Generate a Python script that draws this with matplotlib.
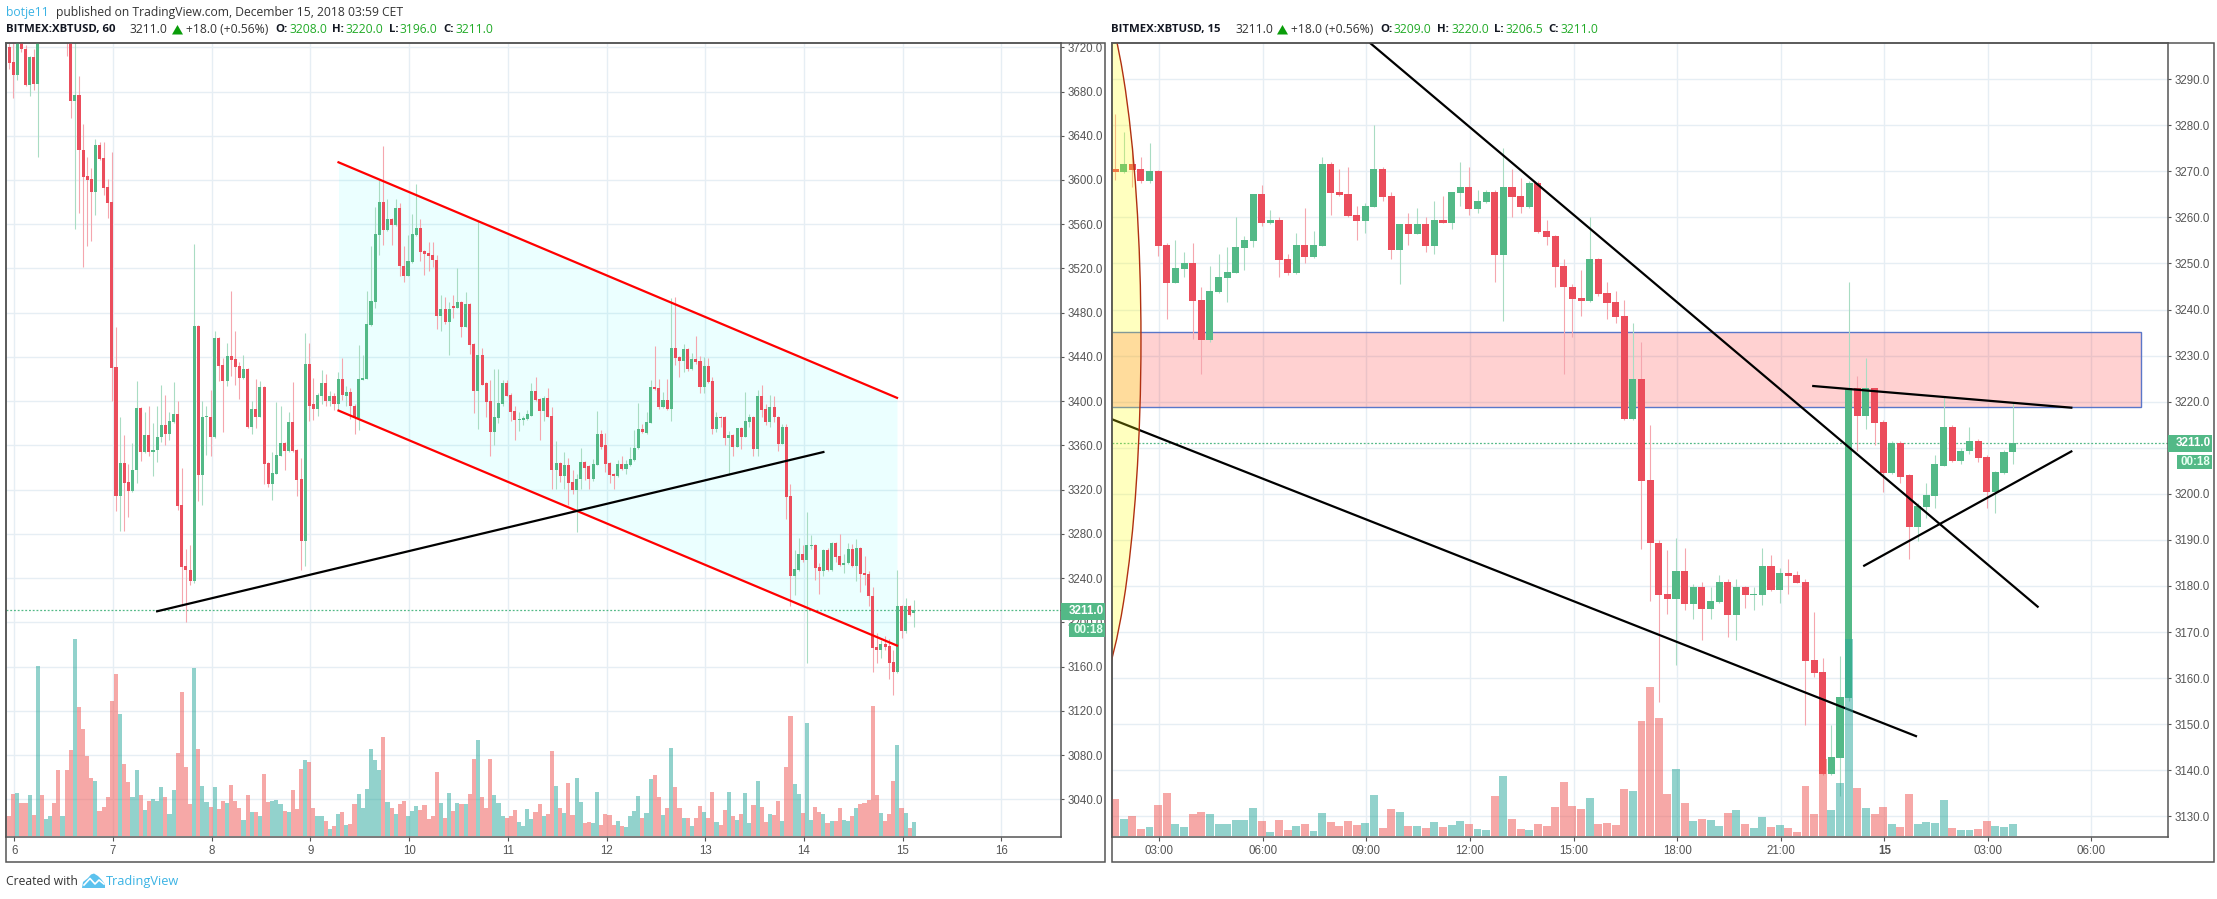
import numpy as np
import matplotlib
matplotlib.use("Agg")
import matplotlib.pyplot as plt
from matplotlib.patches import Ellipse, Polygon, Rectangle

W, H = 2217, 899
UP, DOWN = "#53B987", "#EB4D5C"
UP_WICK, DOWN_WICK = "#A9DCC3", "#F5A6AE"
UP_VOL, DOWN_VOL = "#26A69A", "#EF5350"
GRID = "#E6EEF4"
FRAME = "#555555"
BLUE = "#3BB3E4"
VALUE_GREEN = "#22AB28"

# hourly candles, first one is the bar before Dec 6 00:00
o_1h = [3720,3707,3695,3730,3718,3686,3711,3687,3775,3750,
        3765,3772,3760,3752,3758,3730,3671,3677,3627,3604,
        3601,3589,3632,3620,3594,3580,3431,3314,3344,3327,
        3319,3338,3394,3354,3369,3354,3356,3368,3378,3370,
        3381,3388,3306,3251,3247,3237,3468,3333,3386,3386,
        3368,3457,3433,3418,3441,3438,3432,3421,3429,3377,
        3393,3386,3413,3344,3325,3334,3350,3362,3355,3381,
        3356,3330,3274,3434,3397,3393,3405,3416,3400,3405,
        3397,3420,3405,3408,3396,3385,3419,3420,3469,3490,
        3550,3580,3555,3565,3559,3575,3522,3513,3526,3550,
        3557,3536,3534,3532,3528,3477,3483,3472,3486,3484,
        3490,3467,3488,3452,3409,3442,3416,3400,3372,3385,
        3397,3416,3406,3391,3383,3383,3384,3387,3409,3402,
        3391,3403,3387,3338,3344,3332,3342,3327,3320,3330,
        3345,3341,3330,3342,3370,3360,3344,3334,3332,3343,
        3339,3342,3347,3358,3375,3371,3380,3413,3412,3395,
        3401,3393,3448,3440,3436,3447,3429,3438,3436,3413,
        3432,3418,3375,3386,3386,3367,3369,3359,3376,3368,
        3381,3386,3357,3405,3393,3381,3395,3386,3361,3377,
        3314,3242,3247,3262,3256,3269,3270,3250,3246,3265,
        3247,3272,3260,3252,3254,3266,3251,3267,3245,3244,
        3224,3178,3175,3180,3179,3164,3155,3215,3192,3215,3208]
h_1h = [3724,3730,3735,3735,3722,3712,3718,3740,3780,3770,
        3778,3778,3766,3762,3762,3745,3730,3694,3651,3621,
        3611,3637,3634,3634,3601,3625,3467,3386,3369,3343,
        3362,3418,3395,3390,3396,3380,3396,3415,3406,3390,
        3417,3400,3340,3266,3270,3542,3469,3400,3396,3410,
        3463,3458,3439,3453,3500,3463,3435,3442,3430,3400,
        3420,3418,3414,3345,3354,3399,3396,3363,3390,3417,
        3357,3349,3462,3453,3421,3407,3428,3425,3409,3407,
        3426,3439,3414,3412,3397,3451,3442,3500,3540,3576,
        3600,3631,3583,3566,3583,3579,3540,3550,3569,3596,
        3565,3537,3544,3544,3532,3496,3494,3490,3496,3520,
        3491,3499,3489,3453,3564,3448,3417,3419,3429,3429,
        3419,3419,3407,3396,3390,3387,3392,3416,3422,3403,
        3405,3412,3395,3364,3345,3354,3349,3338,3334,3358,
        3346,3342,3348,3391,3374,3371,3345,3335,3347,3350,
        3347,3359,3374,3398,3379,3390,3419,3450,3420,3408,
        3420,3493,3494,3441,3452,3448,3444,3459,3441,3440,
        3439,3422,3390,3387,3387,3373,3370,3376,3377,3408,
        3388,3387,3410,3415,3397,3406,3405,3387,3379,3379,
        3325,3265,3276,3270,3300,3279,3271,3254,3266,3267,
        3273,3273,3280,3262,3272,3271,3275,3268,3260,3246,
        3232,3190,3184,3188,3185,3175,3247,3216,3222,3216,3220]
l_1h = [3700,3674,3690,3716,3685,3676,3681,3621,3745,3745,
        3760,3752,3745,3740,3712,3656,3556,3570,3521,3540,
        3545,3568,3618,3586,3566,3400,3301,3283,3283,3295,
        3318,3326,3346,3353,3350,3332,3345,3363,3360,3365,
        3380,3302,3215,3200,3234,3236,3310,3306,3351,3350,
        3367,3418,3372,3414,3423,3415,3402,3420,3376,3370,
        3376,3386,3325,3322,3311,3334,3350,3338,3354,3354,
        3314,3247,3251,3382,3383,3387,3397,3396,3396,3392,
        3392,3401,3396,3384,3370,3374,3419,3420,3468,3484,
        3532,3541,3554,3541,3558,3513,3508,3513,3525,3549,
        3527,3514,3518,3521,3465,3463,3470,3442,3475,3484,
        3458,3467,3443,3389,3375,3415,3386,3350,3360,3380,
        3396,3405,3382,3365,3373,3378,3383,3387,3400,3365,
        3382,3386,3321,3321,3327,3321,3306,3316,3282,3321,
        3329,3321,3328,3342,3357,3336,3326,3321,3331,3338,
        3334,3341,3346,3357,3371,3370,3380,3410,3393,3394,
        3392,3382,3433,3422,3426,3427,3428,3434,3407,3407,
        3416,3370,3372,3377,3360,3333,3350,3359,3357,3368,
        3377,3350,3350,3386,3378,3377,3381,3355,3361,3293,
        3215,3225,3246,3255,3163,3266,3238,3226,3242,3246,
        3246,3255,3251,3245,3253,3250,3237,3227,3234,3215,
        3155,3163,3168,3175,3149,3134,3154,3186,3190,3206,3196]
c_1h = [3706,3695,3730,3718,3686,3711,3687,3735,3750,3765,
        3772,3760,3752,3758,3730,3671,3677,3627,3603,3600,
        3589,3632,3619,3593,3579,3430,3314,3344,3326,3319,
        3338,3394,3354,3369,3354,3356,3368,3378,3370,3382,
        3388,3305,3250,3247,3237,3468,3333,3386,3387,3368,
        3457,3432,3418,3441,3437,3431,3421,3429,3377,3393,
        3386,3413,3343,3325,3335,3351,3362,3355,3381,3355,
        3329,3274,3434,3396,3393,3406,3416,3400,3405,3397,
        3420,3406,3408,3396,3385,3420,3421,3470,3491,3551,
        3580,3555,3565,3559,3575,3522,3513,3527,3551,3557,
        3535,3533,3531,3528,3477,3483,3472,3483,3484,3490,
        3467,3488,3451,3409,3442,3415,3399,3372,3386,3398,
        3416,3405,3390,3383,3384,3385,3388,3409,3401,3391,
        3403,3386,3338,3344,3332,3342,3326,3320,3330,3345,
        3340,3330,3343,3370,3359,3343,3333,3332,3343,3339,
        3343,3348,3358,3375,3372,3381,3413,3411,3395,3401,
        3393,3448,3439,3436,3447,3429,3438,3435,3413,3432,
        3417,3375,3386,3385,3367,3369,3359,3376,3368,3382,
        3386,3357,3405,3392,3381,3395,3386,3361,3377,3313,
        3242,3248,3262,3256,3270,3270,3249,3246,3265,3247,
        3272,3259,3252,3254,3266,3251,3267,3244,3243,3224,
        3177,3175,3180,3178,3163,3155,3215,3192,3215,3207,3211]
v_1h = [60,126,129,99,99,123,63,510,123,51,
        60,99,198,60,198,258,591,387,321,240,
        174,165,75,87,117,405,486,366,216,162,
        117,198,123,78,105,111,105,147,117,66,
        138,249,432,207,96,504,261,150,102,87,
        147,81,105,99,153,105,84,48,123,72,
        72,60,186,102,105,108,96,75,72,138,
        81,201,228,222,84,60,60,45,21,30,
        66,72,33,36,96,126,84,141,261,228,
        198,297,102,84,66,96,105,60,75,90,
        78,93,51,60,192,99,54,129,75,99,
        96,96,126,231,288,117,84,231,123,99,
        60,54,60,78,42,30,81,51,72,96,
        60,66,255,150,84,69,159,63,174,102,
        39,42,39,132,33,66,63,33,45,30,
        27,60,75,120,54,69,171,183,117,63,
        84,264,147,84,54,54,30,54,90,72,
        54,132,42,33,78,132,60,48,66,129,
        39,93,165,87,42,66,63,105,45,207,
        360,156,126,69,339,48,87,72,66,39,
        45,45,84,48,45,60,84,96,99,108,
        390,123,69,45,66,165,273,84,69,24,42]

# 15 minute candles
o_15 = [3270.5,3269.9,3271.6,3270.5,3267.9,3270.1,3254,3245.7,3248.8,3250.1,
        3242,3233.3,3243.8,3246.8,3247.9,3253.3,3254.9,3265,3258.8,3259.4,
        3251,3247.9,3254,3251.4,3253.8,3271.6,3265.5,3265,3260.5,3259.2,
        3262.3,3270.5,3264.6,3252.9,3258.6,3256.4,3258.6,3253.8,3259.4,3258.8,
        3265.3,3266.6,3261.8,3263.3,3265.5,3251.8,3266.6,3264.6,3262.3,3267.5,
        3257,3256,3249.4,3245,3242.5,3241.8,3251,3243.5,3241.6,3238.6,
        3216.2,3225,3202.9,3189.4,3178.3,3177.2,3183.3,3176.1,3179.8,3175,
        3176.6,3180.9,3173.7,3179.8,3178.1,3178.1,3184.4,3179.2,3182.9,3182.4,
        3180.9,3164,3161.4,3139.2,3142.7,3155.7,3222.9,3216.8,3222.9,3215.5,
        3204.6,3211,3204,3192.7,3197.2,3199.6,3206.1,3214.4,3207.2,3209.2,
        3211.4,3207.9,3200.3,3204.6,3209]
h_15 = [3282.5,3278.6,3275.5,3273.1,3276.2,3270.3,3254.4,3255,3252.5,3254.4,
        3245,3249.4,3252,3253.6,3260,3256,3265.1,3267,3261.6,3260,
        3252,3256.6,3262,3257,3273.1,3272,3270.5,3271,3262.5,3263.1,
        3280,3271,3265.5,3258.6,3261,3262,3260,3263.5,3264.6,3265.6,
        3272,3271,3266,3266,3266,3275,3270.5,3268.6,3268,3268,
        3259.4,3256.1,3251,3245.5,3248.6,3260,3251.1,3246,3244,3242,
        3237,3233,3214.9,3190,3187.9,3190.5,3188.3,3180.5,3180.9,3179.8,
        3182.4,3181.4,3181.4,3180,3179.8,3188.3,3186.8,3184,3185.9,3183.3,
        3181.4,3174.4,3164.4,3149.8,3164.8,3246,3225.5,3229.4,3223,3216,
        3211.5,3211.5,3204.2,3198,3202.4,3208.5,3221.2,3214.9,3210,3214.4,
        3212,3208.5,3205,3209.5,3220]
l_15 = [3268.1,3269.7,3266.7,3267.5,3267.5,3251.6,3237.9,3245.7,3247,3233.6,
        3226,3232.9,3243.5,3241.6,3247.9,3248.6,3253.6,3258.1,3258.6,3247,
        3247.5,3247.8,3250.1,3251.3,3253.7,3260.5,3264.7,3260,3255,3256.6,
        3262.2,3263.5,3251,3245.5,3254,3256.3,3252.5,3252,3258.7,3257.5,
        3262.5,3260.5,3261,3263.2,3246,3237.5,3260,3261,3262,3256.7,
        3254,3245,3226,3234,3238.5,3241.7,3243,3237.9,3237,3216,
        3216,3188,3176.8,3154.9,3174,3162.9,3174.8,3172.9,3168.3,3172.9,
        3176.4,3169,3168.3,3175.3,3174.8,3175.9,3179,3176.4,3178.3,3180.6,
        3149.8,3160.3,3139,3139,3134.4,3155,3209.4,3214,3210.5,3200.5,
        3204.4,3202.4,3185.9,3189.8,3194.8,3197,3206,3207,3206.4,3208.7,
        3207,3197,3195.9,3204.4,3206.5]
c_15 = [3269.9,3271.6,3270.3,3267.9,3270.1,3253.8,3245.7,3249,3250.1,3241.8,
        3233.3,3244,3247,3248.1,3253.6,3255,3265,3258.8,3259.4,3250.7,
        3247.9,3254,3251.4,3254,3271.6,3265.3,3264.9,3260.3,3259.2,3262.5,
        3270.5,3264.4,3252.9,3258.6,3256.4,3258.6,3253.8,3259.4,3258.8,3265.5,
        3266.6,3261.8,3263.5,3265.5,3251.8,3266.6,3264.4,3262.3,3267.5,3256.8,
        3255.7,3249.2,3244.9,3242.2,3241.8,3251,3243.3,3241.4,3238.3,3216.2,
        3225,3202.7,3189.3,3178.1,3177.2,3183.3,3176.1,3179.8,3175,3176.8,
        3180.9,3173.7,3179.8,3178.1,3178.3,3184.4,3179.2,3182.9,3182.2,3180.7,
        3163.7,3161.1,3139.2,3142.9,3155.9,3222.9,3216.8,3222.9,3215.3,3204.6,
        3211,3203.7,3192.7,3197.4,3199.8,3206.4,3214.4,3207.2,3209.4,3211.4,
        3207.7,3200.3,3204.8,3209,3211]
v_15 = [111,51,60,21,27,93,129,36,27,66,
        72,66,36,36,48,48,84,45,12,48,
        18,30,36,15,69,42,30,45,33,39,
        123,24,81,72,30,30,24,42,27,33,
        45,36,21,18,120,180,51,21,18,36,
        30,87,162,90,81,114,36,39,33,141,
        135,345,447,354,126,201,99,45,51,48,
        30,69,78,36,24,57,27,33,24,12,
        150,66,231,78,159,591,144,84,66,87,
        36,27,126,36,42,39,108,24,18,18,21,45,30,27,36]

last_price = 3211.0

# axis labels
prices_1h = list(range(3040, 3721, 40))
days_1h = ["6", "7", "8", "9", "10", "11", "12", "13", "14", "15", "16"]
prices_15 = list(range(3130, 3291, 10))
times_15 = ["03:00", "06:00", "09:00", "12:00", "15:00", "18:00", "21:00", "15", "03:00", "06:00"]

# drawings on the 60 min chart, in bars and price
channel_x = [79.1, 214.9]
channel_top = [3616, 3403]
channel_bottom = [3391.5, 3179]
support_x = [35, 197]
support_y = [3210, 3354]

# drawings on the 15 min chart
zone_x = [-5, 118.9]
zone_y = [3218.8, 3235.2]
ellipse_c = (-3.94, 3233.4)
ellipse_size = (13.9, 161.5)
trend_lines = [([29.6, 106.9], [3297.8, 3175.5]),
               ([-0.37, 92.8], [3216.2, 3147.4]),
               ([80.9, 110.8], [3223.4, 3218.7]),
               ([86.8, 110.8], [3184.4, 3209.2])]


def px_axes(fig, left, top, right, bottom):
    return fig.add_axes([left / W, 1 - bottom / H, (right - left) / W, (bottom - top) / H])


def candles(ax, vol_ax, x, o, h, l, c, v, body_w, vol_w):
    x = np.array(x, dtype=float)
    o, h, l, c = np.array(o), np.array(h), np.array(l), np.array(c)
    up = c >= o
    ax.vlines(x[up], l[up], h[up], color=UP_WICK, lw=0.8, zorder=2.5)
    ax.vlines(x[~up], l[~up], h[~up], color=DOWN_WICK, lw=0.8, zorder=2.5)
    ax.bar(x[up], (c - o)[up], body_w, bottom=o[up], color=UP, lw=0, zorder=3)
    ax.bar(x[~up], (o - c)[~up], body_w, bottom=c[~up], color=DOWN, lw=0, zorder=3)
    v = np.array(v)
    vol_ax.bar(x[up], v[up], vol_w, color=UP_VOL, alpha=0.5, lw=0)
    vol_ax.bar(x[~up], v[~up], vol_w, color=DOWN_VOL, alpha=0.5, lw=0)
    vol_ax.set_ylim(-3, 2378)
    vol_ax.set_yticks([])
    for s in vol_ax.spines.values():
        s.set_visible(False)


def style(ax, xticks, xlabels, yticks):
    ax.set_xticks(xticks)
    ax.set_xticklabels(xlabels)
    ax.set_yticks(yticks)
    ax.set_yticklabels(["%.1f" % p for p in yticks])
    ax.yaxis.tick_right()
    ax.grid(True, color=GRID, lw=1.0)
    ax.set_axisbelow(True)
    ax.tick_params(axis="y", length=2.5, width=0.8, color=FRAME, labelcolor=FRAME, labelsize=8.3, pad=2.5)
    ax.tick_params(axis="x", length=3, width=0.8, color=FRAME, labelcolor=FRAME, labelsize=8.3, pad=3)
    for lab in ax.get_xticklabels() + ax.get_yticklabels():
        lab.set_fontfamily("Liberation Sans")
    for s in ax.spines.values():
        s.set_color(FRAME)
        s.set_linewidth(1.1)
    ax.axhline(last_price, color=UP, lw=0.9, ls=(0, (1.5, 1.5)), zorder=2)


fig = plt.figure(figsize=(W / 100, H / 100), dpi=100, facecolor="white")

# left chart, 60 min
ax1 = px_axes(fig, 6.4, 43.3, 1060.7, 837)
x1 = np.arange(-1, len(o_1h) - 1)
vol1 = ax1.twinx()
style(ax1, [0.27 + 24 * i for i in range(len(days_1h))], days_1h, prices_1h)
ax1.fill_between(channel_x, channel_bottom, channel_top, color=(0, 1, 1), alpha=0.08, lw=0, zorder=1.5)
candles(ax1, vol1, x1, o_1h, h_1h, l_1h, c_1h, v_1h, 0.74, 1.0)
ax1.plot(channel_x, channel_top, color="#FF0000", lw=1.6, zorder=4)
ax1.plot(channel_x, channel_bottom, color="#FF0000", lw=1.6, zorder=4)
ax1.plot(support_x, support_y, color="black", lw=1.6, zorder=4)
ax1.set_xlim(-1.65, 254.7)
ax1.set_ylim(3005.9, 3723.6)

# right chart, 15 min
ax2 = px_axes(fig, 1111.8, 43.3, 2168, 837)
x2 = np.arange(len(o_15))
vol2 = ax2.twinx()
style(ax2, [5.13 + 12 * i for i in range(len(times_15))], times_15, prices_15)
ax2.get_xticklabels()[7].set_fontweight("bold")
ax2.add_patch(Rectangle((zone_x[0], zone_y[0]), zone_x[1] - zone_x[0], zone_y[1] - zone_y[0],
                        facecolor=(1, 0, 0, 0.18), edgecolor="#5A77C9", lw=1.0, zorder=1.5))
candles(ax2, vol2, x2, o_15, h_15, l_15, c_15, v_15, 0.82, 0.92)
for lx, ly in trend_lines:
    ax2.plot(lx, ly, color="black", lw=1.6, zorder=4)
ax2.add_patch(Ellipse(ellipse_c, ellipse_size[0], ellipse_size[1], facecolor=(1, 1, 0, 0.25),
                      edgecolor="#B03010", lw=1.0, zorder=4.5))
ax2.set_xlim(-0.37, 122)
ax2.set_ylim(3125.5, 3297.8)

# overlay in pixels for frames, header, price tags, footer
top = fig.add_axes([0, 0, 1, 1], zorder=10)
top.set_xlim(0, W)
top.set_ylim(H, 0)
top.axis("off")
top.patch.set_alpha(0)


def put(x, y, s, color="#333333", weight="normal", size=8.7, family="Open Sans", ha="left"):
    top.text(x, y, s, color=color, fontweight=weight, fontsize=size, family=family, ha=ha, va="center")


for fx0, fx1 in [(6.4, 1105.4), (1111.8, 2213.6)]:
    top.add_patch(Rectangle((fx0, 43.3), fx1 - fx0, 819, fill=False, edgecolor=FRAME, lw=1.1))

put(6.4, 12.6, "botje11", color=BLUE)
put(55.5, 12.6, "published on TradingView.com, December 15, 2018 03:59 CET")


def header(dx, name, vals):
    put(dx + 6.4, 29.3, name, color="#131722", weight="bold", size=8.2)
    put(dx + 130, 29.3, "3211.0")
    top.add_patch(Polygon([(dx + 172, 34.5), (dx + 177.5, 25), (dx + 183, 34.5)], color="#0A9D0A", lw=0))
    put(dx + 186, 29.3, "+18.0 (+0.56%)")
    for lab, val, lx, vx in zip("OHLC", vals, [275.4, 332, 389, 443], [289, 346, 400, 455.4]):
        put(dx + lx, 29.3, lab + ":", color="#131722", weight="bold", size=8.2)
        put(dx + vx, 29.3, val, color=VALUE_GREEN)


header(0, "BITMEX:XBTUSD, 60", ["3208.0", "3220.0", "3196.0", "3211.0"])
header(1105, "BITMEX:XBTUSD, 15", ["3209.0", "3220.0", "3206.5", "3211.0"])

# last price tags
for bx0, bx1, by0, cx0 in [(1060.7, 1105, 603, 1069), (2168, 2211.8, 435, 2176.8)]:
    top.add_patch(Rectangle((bx0, by0), bx1 - bx0, 16.5, color=UP, lw=0))
    top.add_patch(Rectangle((cx0, by0 + 20), bx1 - cx0, 14, color=UP, lw=0))
    put(bx1 - 1.5, by0 + 8.3, "3211.0", color="white", weight="bold", size=8.4, family="Liberation Sans", ha="right")
    put(bx1 - 1.5, by0 + 27, "00:18", color="#E6FFF0", weight="bold", size=8.4, family="Liberation Sans", ha="right")

# footer
put(6.4, 881.5, "Created with")
top.add_patch(Polygon([(82, 888), (83, 882), (88, 878), (91, 874.5), (94, 873.5), (98, 876), (101, 879),
                       (105, 884), (105, 888)], color="#5CC2EE", lw=0))
top.plot([84, 90, 95, 99, 104], [885, 878.5, 884, 880, 884], color="white", lw=1.2)
put(106, 881.5, "TradingView", color=BLUE, size=9.2)

fig.savefig("out.png", dpi=100)
